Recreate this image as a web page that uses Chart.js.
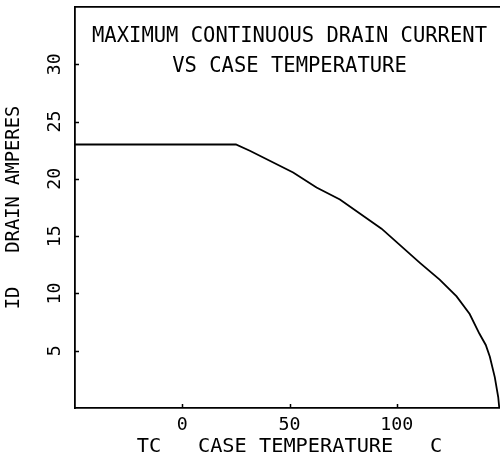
<!DOCTYPE html>
<html>
<head>
<meta charset="utf-8">
<script src="https://cdn.jsdelivr.net/npm/chart.js@4.4.1/dist/chart.umd.min.js"></script>
<style>
    html, body { margin: 0; padding: 0; background: #ffffff; overflow: hidden; }
    #wrap { width: 506px; height: 461px; }
</style>
</head>
<body>
<div id="wrap"><canvas id="drain-chart" width="506" height="461"></canvas></div>
<script>
// values (case temperature in C, drain current in A)
const caseTemps = [-50, 25, 31.5, 51.7, 62.6, 73.5, 92.9, 110.8, 120, 127.9, 134, 138.5, 141.5, 143.4, 145.7, 147.3, 147.8];
const drainAmps = [23, 23, 22.45, 20.56, 19.25, 18.2, 15.65, 12.67, 11.2, 9.74, 8.2, 6.5, 5.5, 4.47, 2.7, 0.96, 0];
const xTickValues = [0, 50, 100];
const yTickValues = [5, 10, 15, 20, 25, 30];
const titleLines = ['MAXIMUM CONTINUOUS DRAIN CURRENT', 'VS CASE TEMPERATURE'];

const FONT = 'DejaVu Sans Mono';
const INK = '#000000';

const points = caseTemps.map(function(t, i) {
    return { x: t, y: drainAmps[i] };
});

// no extra room for overhanging tick labels, the box is fixed
function noPadding(scale) {
    scale.paddingTop = 0;
    scale.paddingBottom = 0;
    scale.paddingLeft = 0;
    scale.paddingRight = 0;
}

// ticks drawn inward, like the plotter output
const innerTicks = {
    id: 'innerTicks',
    afterDraw(chart) {
        const { ctx, chartArea } = chart;
        const xs = chart.scales.x;
        const ys = chart.scales.y;
        ctx.save();
        ctx.strokeStyle = INK;
        ctx.lineWidth = 1.5;
        ctx.beginPath();
        xTickValues.forEach(function(v) {
            const px = Math.round(xs.getPixelForValue(v)) + 0.5;
            ctx.moveTo(px, chartArea.bottom);
            ctx.lineTo(px, chartArea.bottom - 4);
        });
        yTickValues.forEach(function(v) {
            const py = Math.round(ys.getPixelForValue(v)) + 0.5;
            ctx.moveTo(chartArea.left, py);
            ctx.lineTo(chartArea.left + 4, py);
        });
        ctx.stroke();
        ctx.restore();
    }
};

// two line title sits inside the plot box
const innerTitle = {
    id: 'innerTitle',
    afterDraw(chart) {
        const { ctx, chartArea } = chart;
        const cx = (chartArea.left + chartArea.right) / 2;
        ctx.save();
        ctx.fillStyle = INK;
        ctx.font = '20.5px ' + FONT;
        ctx.textAlign = 'center';
        ctx.textBaseline = 'middle';
        ctx.fillText(titleLines[0], cx, chartArea.top + 30);
        ctx.fillText(titleLines[1], cx, chartArea.top + 60);
        ctx.restore();
    }
};

new Chart(document.getElementById('drain-chart'), {
    type: 'line',
    data: {
        datasets: [{
            data: points,
            borderColor: INK,
            borderWidth: 1.8,
            pointRadius: 0,
            tension: 0,
            fill: false
        }]
    },
    options: {
        responsive: false,
        animation: false,
        layout: {
            autoPadding: false,
            padding: { top: 7, right: 2, bottom: 0, left: 0 }
        },
        plugins: {
            legend: { display: false },
            tooltip: { enabled: false }
        },
        scales: {
            x: {
                type: 'linear',
                min: -50,
                max: 150,
                afterBuildTicks: function(scale) {
                    scale.ticks = xTickValues.map(function(v) { return { value: v }; });
                },
                afterFit: function(scale) {
                    scale.height = 53;
                    noPadding(scale);
                },
                grid: { display: false, drawTicks: false },
                border: { display: true, color: INK, width: 1.8 },
                ticks: {
                    color: INK,
                    padding: 6,
                    maxRotation: 0,
                    font: { family: FONT, size: 18.3 }
                },
                title: {
                    display: true,
                    text: 'TC   CASE TEMPERATURE   C',
                    color: INK,
                    padding: { top: 0, bottom: 2 },
                    font: { family: FONT, size: 20.3 }
                }
            },
            xTop: {
                type: 'linear',
                position: 'top',
                min: -50,
                max: 150,
                afterFit: function(scale) {
                    scale.height = 0;
                    noPadding(scale);
                },
                grid: { display: false, drawTicks: false },
                border: { display: true, color: INK, width: 1.8 },
                ticks: { display: false }
            },
            y: {
                min: 0,
                max: 35,
                afterBuildTicks: function(scale) {
                    scale.ticks = yTickValues.map(function(v) { return { value: v }; });
                },
                afterFit: function(scale) {
                    scale.width = 75;
                    noPadding(scale);
                },
                grid: { display: false, drawTicks: false },
                border: { display: true, color: INK, width: 1.8 },
                ticks: {
                    color: INK,
                    padding: 9,
                    minRotation: 90,
                    maxRotation: 90,
                    crossAlign: 'center',
                    font: { family: FONT, size: 18.3 }
                },
                title: {
                    display: true,
                    text: 'ID   DRAIN AMPERES',
                    color: INK,
                    padding: { top: 3, bottom: 0 },
                    font: { family: FONT, size: 18.8 }
                }
            }
        }
    },
    plugins: [innerTicks, innerTitle]
});
</script>
</body>
</html>
